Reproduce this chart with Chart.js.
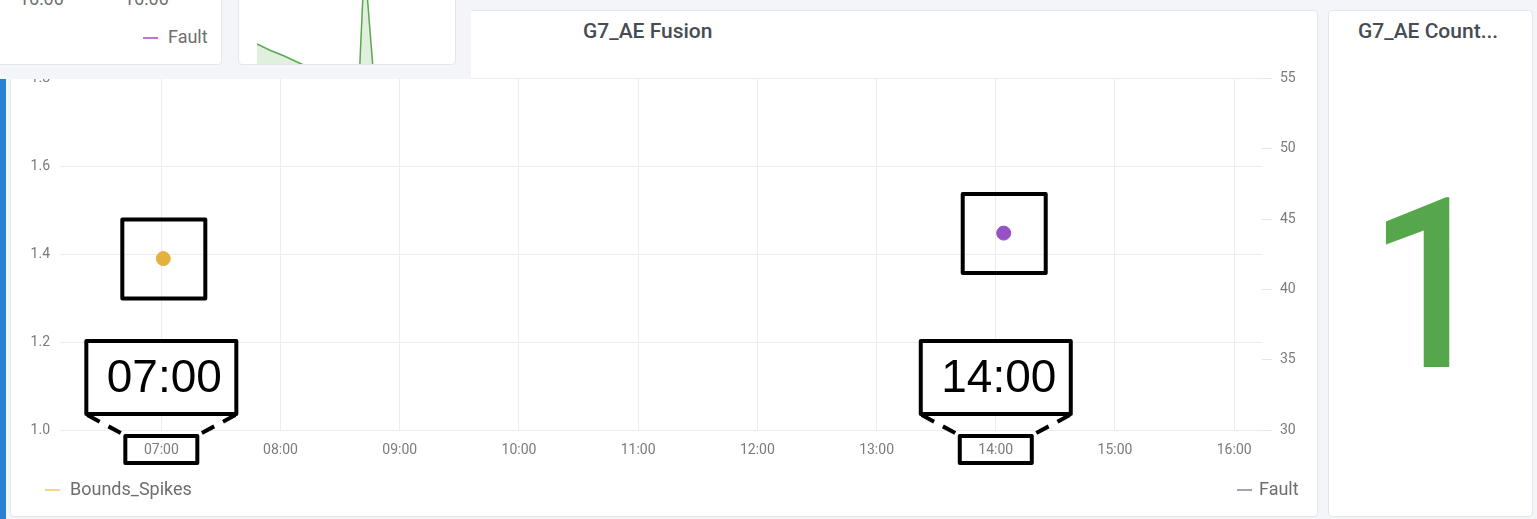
<!DOCTYPE html>
<html lang="en">
<head>
    <meta charset="UTF-8">
    <title>G7_AE Fusion</title>
    <script src="https://cdn.jsdelivr.net/npm/chart.js"></script>
    <style>
        body {
            margin: 0;
            width: 1537px;
            height: 519px;
            overflow: hidden;
            background-color: #f4f5f8;
            font-family: Roboto, Arial, sans-serif;
            position: relative;
        }
        .card {
            position: absolute;
            background: white;
            border: 1px solid #e4e6ea;
            border-radius: 4px;
            box-sizing: border-box;
        }
        .title {
            position: absolute;
            font-size: 21px;
            font-weight: 500;
            color: #464c54;
            line-height: 24px;
            white-space: nowrap;
        }
        .legend {
            position: absolute;
            font-size: 18px;
            color: #6e6e6e;
            line-height: 20px;
            white-space: nowrap;
        }
        .legend i {
            display: inline-block;
            width: 15px;
            height: 2px;
            vertical-align: middle;
            margin-right: 10px;
        }
        #overlay {
            position: absolute;
            left: 0; top: 0;
            width: 471px; height: 79px;
            background: #f4f5f8;
            overflow: hidden;
            z-index: 5;
        }
        #blue {
            position: absolute;
            left: 0; top: 79px;
            width: 6px; height: 440px;
            background: #2a80d2;
            z-index: 4;
        }
    </style>
</head>
<body>
    <!-- main panel -->
    <div class="card" style="left:10px; top:10px; width:1308px; height:507px;"></div>
    <div class="title" style="left:583px; top:19px;">G7_AE Fusion</div>
    <div style="position:absolute; left:10px; top:60px; width:1308px; height:457px;">
        <canvas id="fusionChart"></canvas>
    </div>
    <div class="legend" style="left:45px; top:479px;"><i style="background:#f1d58e"></i>Bounds_Spikes</div>
    <div class="legend" style="left:1237px; top:479px;"><i style="background:#a99fb6; margin-right:7px"></i>Fault</div>

    <!-- stat panel -->
    <div class="card" style="left:1328px; top:10px; width:205px; height:507px;"></div>
    <div class="title" style="left:1358px; top:19px;">G7_AE Count...</div>
    <div id="statValue" style="position:absolute; left:1327px; top:166px; width:205px; text-align:center;
        font-size:238px; line-height:240px; font-weight:500; color:#56a64b;
        transform:scaleX(0.91); transform-origin:50% 50%;"></div>

    <div id="blue"></div>

    <!-- panels above, cut off -->
    <div id="overlay">
        <div class="card" style="left:-4px; top:-6px; width:226px; height:71px;">
            <div class="legend" style="left:22px; top:-6px; font-size:18px;">16:00</div>
            <div class="legend" style="left:127px; top:-6px; font-size:18px;">16:00</div>
            <div class="legend" style="left:146px; top:32px;"><i style="background:#b877d9"></i>Fault</div>
        </div>
        <div class="card" style="left:238px; top:-6px; width:218px; height:71px; overflow:hidden;">
            <div style="position:absolute; left:18px; top:-34px; width:199px; height:150px;">
                <canvas id="miniChart"></canvas>
            </div>
        </div>
    </div>

    <script>
        // Main panel data
        const hourLabels = ['07:00', '08:00', '09:00', '10:00', '11:00', '12:00', '13:00', '14:00', '15:00', '16:00'];
        const boundsTimes = ['07:01'];
        const boundsValues = [1.39];
        const faultTimes = ['14:04'];
        const faultValues = [44];
        const timeRange = ['06:09', '16:14'];

        // Stat panel
        const countValue = 1;

        // Small panel above (only a piece is visible)
        const miniX = [0, 6.5, 13.1, 19.6, 25.6, 36.7, 51.3, 54.0, 58.8, 71.9, 100];
        const miniValues = [44.7, 40.5, 37, 33, 29.3, 24, 20, 100, 20, 18, 16];

        function toHours(t) {
            const p = t.split(':');
            return Number(p[0]) + Number(p[1]) / 60;
        }
        function pad(n) {
            return (n < 10 ? '0' : '') + n;
        }

        document.getElementById('statValue').textContent = countValue;

        // draws the black marker boxes and the zoomed time labels
        const markBoxes = {
            id: 'markBoxes',
            afterDraw(chart) {
                const ctx = chart.ctx;
                const xs = chart.scales.x;
                const bottom = chart.chartArea.bottom;
                ctx.save();
                ctx.strokeStyle = '#000';
                ctx.lineWidth = 4;
                ctx.lineJoin = 'round';
                chart.data.datasets.forEach((ds, i) => {
                    const pt = chart.getDatasetMeta(i).data[0];
                    ctx.setLineDash([]);
                    ctx.strokeRect(pt.x - 41, pt.y - 39, 83, 79);

                    const hour = Math.round(ds.data[0].x);
                    const tx = xs.getPixelForValue(hour);
                    const bigTop = bottom - 89, bigBot = bottom - 16;
                    ctx.fillStyle = '#fff';
                    ctx.fillRect(tx - 75, bigTop, 150, bigBot - bigTop);
                    ctx.strokeRect(tx - 75, bigTop, 150, bigBot - bigTop);
                    ctx.fillStyle = '#000';
                    ctx.font = '46px "Liberation Sans", Arial, sans-serif';
                    ctx.textAlign = 'center';
                    ctx.textBaseline = 'middle';
                    ctx.fillText(pad(hour) + ':00', tx + 3, (bigTop + bigBot) / 2 + 2);

                    const smTop = bottom + 6, smBot = bottom + 33;
                    ctx.strokeRect(tx - 36, smTop, 72, smBot - smTop);

                    ctx.setLineDash([14, 10]);
                    ctx.beginPath();
                    ctx.moveTo(tx - 74, bigBot + 1);
                    ctx.lineTo(tx - 35, smTop);
                    ctx.moveTo(tx + 74, bigBot + 1);
                    ctx.lineTo(tx + 35, smTop);
                    ctx.stroke();
                });
                ctx.restore();
            }
        };

        const tickFont = { family: 'Roboto', size: 14 };
        const tickColor = '#7b7b7b';

        new Chart(document.getElementById('fusionChart'), {
            type: 'scatter',
            data: {
                datasets: [{
                    label: 'Bounds_Spikes',
                    data: boundsTimes.map((t, i) => ({ x: toHours(t), y: boundsValues[i] })),
                    yAxisID: 'y',
                    backgroundColor: '#e3b13e',
                    borderColor: '#e3b13e',
                    pointRadius: 7
                }, {
                    label: 'Fault',
                    data: faultTimes.map((t, i) => ({ x: toHours(t), y: faultValues[i] })),
                    yAxisID: 'y1',
                    backgroundColor: '#9651c6',
                    borderColor: '#9651c6',
                    pointRadius: 7
                }]
            },
            options: {
                responsive: true,
                maintainAspectRatio: false,
                animation: false,
                layout: { padding: { top: 18, left: 0, right: 0, bottom: 0 } },
                plugins: {
                    legend: { display: false },
                    tooltip: { enabled: false }
                },
                scales: {
                    x: {
                        type: 'linear',
                        min: toHours(timeRange[0]),
                        max: toHours(timeRange[1]),
                        afterBuildTicks: axis => {
                            axis.ticks = hourLabels.map(l => ({ value: toHours(l) }));
                        },
                        afterFit: axis => { axis.height = 87; },
                        border: { display: false },
                        grid: { color: '#ececec', drawTicks: false },
                        ticks: {
                            font: tickFont,
                            color: tickColor,
                            padding: 12,
                            maxRotation: 0,
                            autoSkip: false,
                            callback: v => pad(Math.round(v)) + ':00'
                        }
                    },
                    y: {
                        position: 'left',
                        min: 1.0,
                        max: 1.8,
                        afterFit: axis => { axis.width = 50; },
                        border: { display: false },
                        grid: { color: '#ececec', drawTicks: false },
                        ticks: {
                            stepSize: 0.2,
                            font: tickFont,
                            color: tickColor,
                            padding: 10,
                            callback: v => v.toFixed(1)
                        }
                    },
                    y1: {
                        position: 'right',
                        min: 30,
                        max: 55,
                        afterFit: axis => { axis.width = 56; },
                        border: { display: false },
                        grid: { drawOnChartArea: false, color: '#e6e6e6', tickLength: 10 },
                        ticks: {
                            stepSize: 5,
                            font: tickFont,
                            color: tickColor,
                            padding: 8
                        }
                    }
                }
            },
            plugins: [markBoxes]
        });

        new Chart(document.getElementById('miniChart'), {
            type: 'line',
            data: {
                datasets: [{
                    data: miniX.map((x, i) => ({ x: x, y: miniValues[i] })),
                    borderColor: '#5aa84f',
                    borderWidth: 1.5,
                    backgroundColor: 'rgba(86, 166, 75, 0.18)',
                    fill: 'origin',
                    pointRadius: 0,
                    tension: 0
                }]
            },
            options: {
                responsive: true,
                maintainAspectRatio: false,
                animation: false,
                layout: { padding: 0 },
                plugins: { legend: { display: false }, tooltip: { enabled: false } },
                scales: {
                    x: { type: 'linear', min: 0, max: 100, display: false },
                    y: { min: 0, max: 100, display: false }
                }
            }
        });
    </script>
</body>
</html>
